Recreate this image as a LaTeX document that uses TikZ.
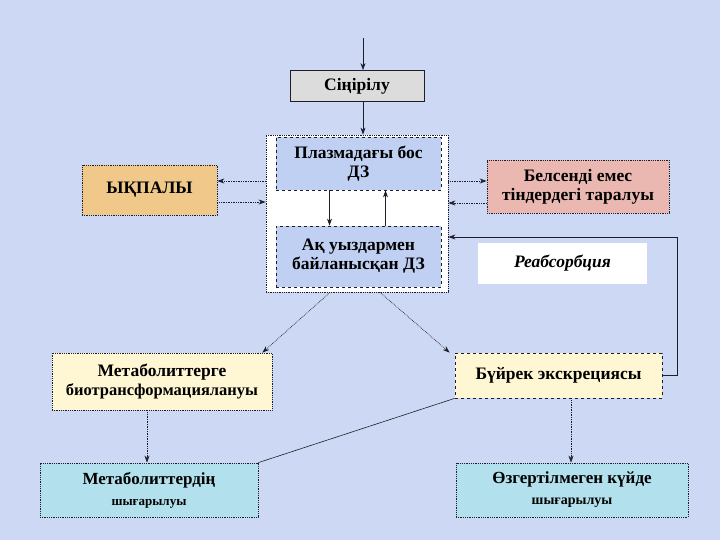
\documentclass[tikz,border=0pt]{standalone}
\usepackage{fontspec}
\setmainfont{Liberation Serif}
\usetikzlibrary{arrows.meta}
\definecolor{bg}{RGB}{204,216,244}
\definecolor{grayfill}{RGB}{220,220,220}
\definecolor{innerblue}{RGB}{192,208,242}
\definecolor{tan}{RGB}{240,200,138}
\definecolor{pinkfill}{RGB}{234,184,176}
\definecolor{creamfill}{RGB}{255,246,212}
\definecolor{cyanfill}{RGB}{178,224,236}
\definecolor{edge}{RGB}{30,30,40}
\tikzset{
  box/.style={draw=edge, line width=0.8pt, inner sep=2pt, align=center,
    font=\fontsize{17.5}{19}\selectfont\bfseries, text=black},
  dotbox/.style={box, densely dotted},
  dashbox/.style={box, dashed},
  arr/.style={-{Stealth[length=7pt,width=5pt]}, line width=0.7pt, draw=edge},
  dotarr/.style={arr, densely dotted},
}
\begin{document}
\begin{tikzpicture}[x=1pt,y=-1pt]
\fill[bg] (0,0) rectangle (720,540);
\useasboundingbox (0,0) rectangle (720,540);

\node[box, fill=grayfill, minimum width=134pt, minimum height=31pt] (sin) at (357,86) {Сіңірілу};
\coordinate (top) at (363,38);

\node[dotbox, fill=white, minimum width=182pt, minimum height=157pt] (cen) at (357,213.5) {};
\node[dashbox, fill=innerblue, minimum width=165pt, minimum height=53pt] (plaz) at (358.5,163.5) {Плазмадағы бос\\ДЗ};
\node[dashbox, fill=innerblue, minimum width=165pt, minimum height=61pt] (ak) at (358.5,256.5) {Ақ уыздармен\\байланысқан ДЗ};

\node[dotbox, fill=tan, minimum width=135pt, minimum height=50pt] (yk) at (149.5,190) {ЫҚПАЛЫ};
\node[dotbox, fill=pinkfill, minimum width=182pt, minimum height=53pt] (bel) at (578,186.5) {Белсенді емес\\тіндердегі таралуы};
\node[box, draw=none, fill=white, minimum width=169pt, minimum height=41pt, font=\fontsize{17.5}{19}\selectfont\bfseries\itshape] (reab) at (562.5,263.5) {Реабсорбция};

\node[dotbox, fill=creamfill, minimum width=220pt, minimum height=57pt] (met1) at (162,381.5) {Метаболиттерге\\{\fontsize{16.5}{19}\selectfont биотрансформациялануы}};
\node[dashbox, fill=creamfill, minimum width=207pt, minimum height=45pt] (buy) at (558.5,375.5) {Бүйрек экскрециясы};

\node[dotbox, fill=cyanfill, minimum width=218pt, minimum height=54pt, font=\fontsize{17}{21}\selectfont\bfseries] (met2) at (149,490) {Метаболиттердің\\{\fontsize{13}{17}\selectfont шығарылуы}};
\node[dotbox, fill=cyanfill, minimum width=232pt, minimum height=54pt, font=\fontsize{17}{21}\selectfont\bfseries] (ozg) at (572,490) {Өзгертілмеген күйде\\{\fontsize{14}{17}\selectfont шығарылуы}};

% arrows
\draw[arr] (top) -- (top |- sin.north);
\draw[arr] (sin.south -| top) -- (cen.north -| top);
\draw[arr] ([xshift=-29pt]plaz.south) -- ([xshift=-29pt]ak.north);
\draw[arr] ([xshift=27pt]ak.north) -- ([xshift=27pt]plaz.south);

\draw[dotarr] (cen.west |- 0,181) -- (yk.east |- 0,181);
\draw[dotarr] (yk.east |- 0,202) -- (cen.west |- 0,202);
\draw[dotarr] (cen.east |- 0,181) -- (bel.west |- 0,181);
\draw[dotarr] (bel.west |- 0,203) -- (cen.east |- 0,203);

\coordinate (rc) at (677,237);
\draw[arr] (buy.east) -- (buy.east -| rc) -- (rc) -- (cen.east |- rc);

\draw[dotarr] ([xshift=-27pt]cen.south) -- ([xshift=-10pt]met1.north east);
\draw[dotarr] ([xshift=23pt]cen.south) -- ([xshift=-5pt]buy.north west);

\draw[dotarr] (met1.south -| 147,0) -- (met2.north -| 147,0);
\draw[dotarr] (buy.south -| 571,0) -- (ozg.north -| 571,0);
\draw[line width=0.6pt, draw=edge] (buy.south west) -- (met2.north east);
\end{tikzpicture}
\end{document}
